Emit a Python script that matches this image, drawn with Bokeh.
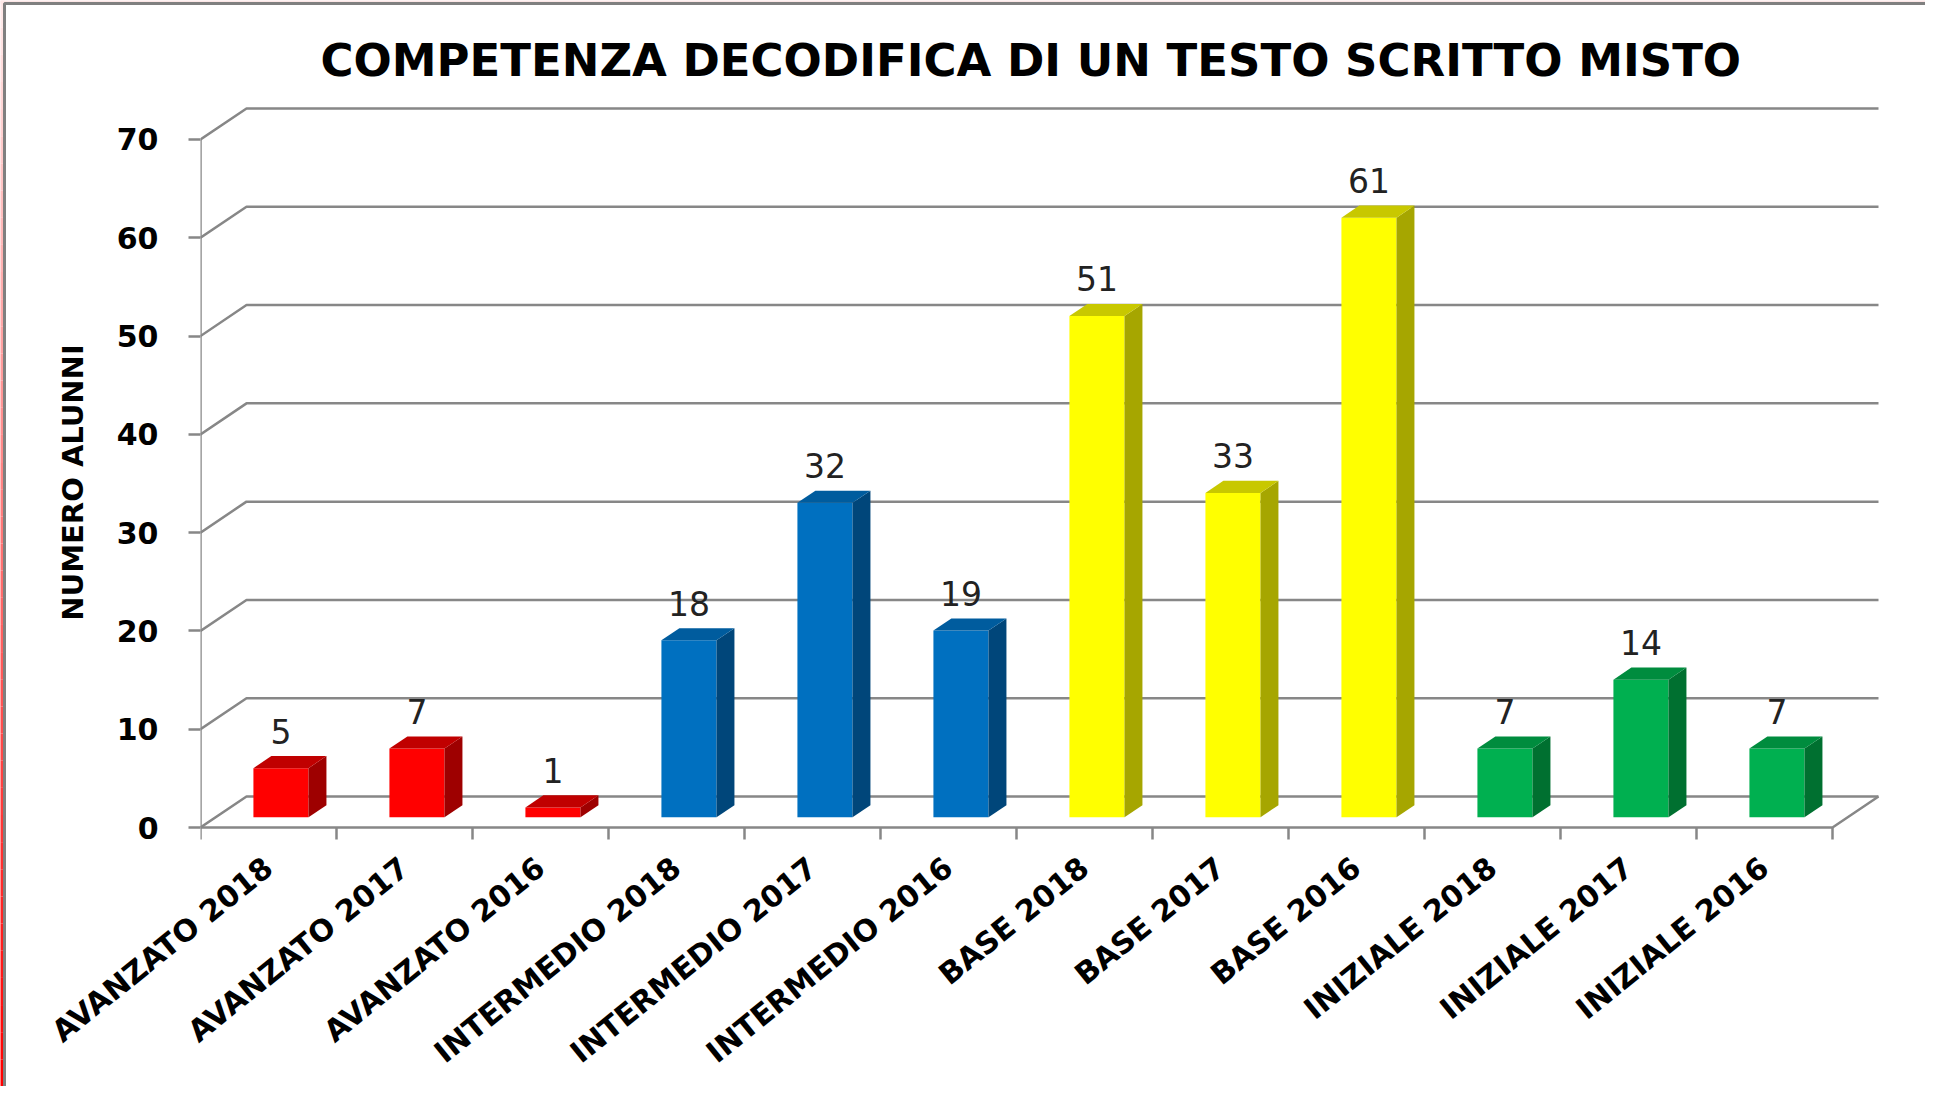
from bokeh.plotting import figure
from bokeh.models import Range1d, FixedTicker
from bokeh.embed import file_html
from bokeh.resources import INLINE
from bokeh.core.properties import value

# ---------------- data ----------------
categories = ["AVANZATO 2018", "AVANZATO 2017", "AVANZATO 2016",
              "INTERMEDIO 2018", "INTERMEDIO 2017", "INTERMEDIO 2016",
              "BASE 2018", "BASE 2017", "BASE 2016",
              "INIZIALE 2018", "INIZIALE 2017", "INIZIALE 2016"]
values = [5, 7, 1, 18, 32, 19, 51, 33, 61, 7, 14, 7]
groups = ["AVANZATO"] * 3 + ["INTERMEDIO"] * 3 + ["BASE"] * 3 + ["INIZIALE"] * 3
y_ticks = [0, 10, 20, 30, 40, 50, 60, 70]
title_text = "COMPETENZA DECODIFICA DI UN TESTO SCRITTO MISTO"
y_label = "NUMERO ALUNNI"

front_colors = {"AVANZATO": "#FF0000", "INTERMEDIO": "#0070C0", "BASE": "#FFFF00", "INIZIALE": "#00B050"}
top_colors = {"AVANZATO": "#C00000", "INTERMEDIO": "#005C9E", "BASE": "#C8C800", "INIZIALE": "#008C3E"}
side_colors = {"AVANZATO": "#9E0000", "INTERMEDIO": "#00467A", "BASE": "#A6A600", "INIZIALE": "#007030"}

# ---------------- layout ----------------
W, H = 1925, 1086
PX_X = 136.0      # pixels per category
PX_Y = 9.829      # pixels per unit
FL, FR, FT, FB = 200, 1897, 102, 862   # frame edges (figure px)
ZERO = 827        # figure px of value 0 on the front plane

x_end = (FR - FL) / PX_X
y_start = -(FB - ZERO) / PX_Y
y_end = (ZERO - FT) / PX_Y

DX = 46 / PX_X    # depth of the 3D box
DY = 31 / PX_Y
F0, F1 = 0.33, 0.72
BAR_W = 0.405
GRID = "#878787"
N = len(categories)

p = figure(width=W, height=H, output_backend="svg", toolbar_location=None,
           x_range=Range1d(0, x_end), y_range=Range1d(y_start, y_end),
           min_border_left=FL, min_border_right=W - FR,
           min_border_top=FT, min_border_bottom=H - FB,
           title=title_text)
p.outline_line_color = None
p.background_fill_color = "white"
p.border_fill_color = "white"
p.xgrid.visible = False
p.ygrid.visible = False

p.title.align = "left"
p.title.offset = 120
p.title.text_font = "DejaVu Sans"
p.title.text_font_style = "bold"
p.title.text_font_size = "45px"
p.title.text_color = "black"
p.title.standoff = 32

# y axis (labels + ticks)
p.yaxis.ticker = FixedTicker(ticks=y_ticks)
p.yaxis.axis_line_color = None
p.yaxis.major_tick_out = 12
p.yaxis.major_tick_in = 0
p.yaxis.minor_tick_out = 0
p.yaxis.minor_tick_in = 0
p.yaxis.major_tick_line_color = GRID
p.yaxis.major_tick_line_width = 2.5
p.yaxis.major_label_standoff = 30
p.yaxis.major_label_text_font = "DejaVu Sans"
p.yaxis.major_label_text_font_style = "bold"
p.yaxis.major_label_text_font_size = "30px"
p.yaxis.major_label_text_color = "black"
p.yaxis.axis_label = y_label
p.yaxis.axis_label_text_font = "DejaVu Sans"
p.yaxis.axis_label_text_font_style = "bold"
p.yaxis.axis_label_text_font_size = "29px"
p.yaxis.axis_label_text_color = "black"
p.yaxis.axis_label_standoff = 24

# x axis (category labels)
centers = [i + 0.5 for i in range(N)]
p.xaxis.ticker = FixedTicker(ticks=centers)
p.xaxis.major_label_overrides = {c: cat for c, cat in zip(centers, categories)}
p.xaxis.axis_line_color = None
p.xaxis.major_tick_out = 0
p.xaxis.major_tick_in = 0
p.xaxis.minor_tick_out = 0
p.xaxis.minor_tick_in = 0
p.xaxis.major_label_orientation = 0.68
p.xaxis.major_label_standoff = 1
p.xaxis.major_label_text_font = "DejaVu Sans"
p.xaxis.major_label_text_font_style = "bold"
p.xaxis.major_label_text_font_size = "30px"
p.xaxis.major_label_text_color = "black"

# ---------------- 3D walls ----------------
back_xs, back_ys = [], []
for t in y_ticks:
    back_xs.append([0, DX, N + DX])
    back_ys.append([t, t + DY, t + DY])
p.multi_line(back_xs, back_ys, line_color=GRID, line_width=2.5)
# floor front edge + right diagonal
p.line([0, N, N + DX], [0, 0, DY], line_color=GRID, line_width=2.5)
# front y axis line
p.line([0, 0], [y_ticks[0], y_ticks[-1]], line_color=GRID, line_width=2.5)
# x tick marks at category boundaries
p.segment(x0=list(range(N + 1)), y0=[0] * (N + 1), x1=list(range(N + 1)),
          y1=[-12 / PX_Y] * (N + 1), line_color=GRID, line_width=2.5)

# ---------------- bars ----------------
yb = F0 * DY
sdx = (F1 - F0) * DX
sdy = (F1 - F0) * DY
xc = [i + 0.48 + F0 * DX for i in range(N)]
tops = [v + yb for v in values]
xl = [c - BAR_W / 2 for c in xc]
xr = [c + BAR_W / 2 for c in xc]

p.quad(left=xl, right=xr, bottom=[yb] * N, top=tops,
       fill_color=[front_colors[g] for g in groups], line_color=None)
p.patches([[r, r, r + sdx, r + sdx] for r in xr],
          [[yb, t, t + sdy, yb + sdy] for t in tops],
          fill_color=[side_colors[g] for g in groups], line_color=None)
p.patches([[l, r, r + sdx, l + sdx] for l, r in zip(xl, xr)],
          [[t, t, t + sdy, t + sdy] for t in tops],
          fill_color=[top_colors[g] for g in groups], line_color=None)

p.text(x=xc, y=[t + 37 / PX_Y for t in tops], text=[str(v) for v in values],
       text_align="center", text_baseline="alphabetic",
       text_font=value("DejaVu Sans"), text_font_size="33px", text_color="#222222")

# ---------------- outer slide border ----------------
def X(fx):
    return (fx - FL) / PX_X

def Y(fy):
    return (ZERO - fy) / PX_Y

p.quad(left=[X(0)], right=[X(W)], top=[Y(0)], bottom=[Y(3)],
       fill_color="#FCE6E6", line_color=None, level="overlay")
nseg = 40
seg_tops, seg_bots, seg_cols = [], [], []
for k in range(nseg):
    f = k / (nseg - 1)
    g = int(round(232 * (1 - f)))
    seg_tops.append(Y(H * k / nseg))
    seg_bots.append(Y(H * (k + 1) / nseg))
    seg_cols.append("#%02X%02X%02X" % (255, g, g))
p.quad(left=[X(0)] * nseg, right=[X(4)] * nseg, top=seg_tops, bottom=seg_bots,
       fill_color=seg_cols, line_color=None, level="overlay")
p.line([X(4), X(4), X(W)], [Y(H), Y(3), Y(3)], line_color="#808080", line_width=3, level="overlay")

open("out.html", "w").write(file_html(p, INLINE))
